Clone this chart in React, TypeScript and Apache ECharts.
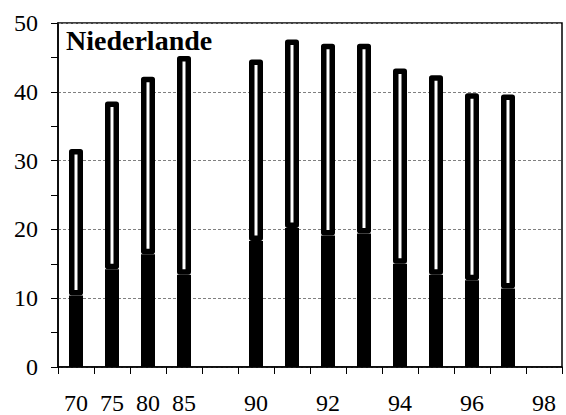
import React, { useEffect, useRef } from "react";
import * as echarts from "echarts";

const categories = ["70", "75", "80", "85", "", "90", "91", "92", "93", "94", "95", "96", "97", "98"];
const hiddenLabels = ["91", "93", "95", "97"];
const blackValues: (number | null)[] = [10.4, 14.2, 16.4, 13.4, null, 18.3, 20.2, 19.1, 19.4, 15.0, 13.4, 12.6, 11.4, null];
const totalValues: (number | null)[] = [31.7, 38.6, 42.2, 45.2, null, 44.7, 47.6, 47.0, 47.0, 43.4, 42.4, 39.8, 39.6, null];
const yTicks = [0, 10, 20, 30, 40, 50];
const titleText = "Niederlande";

const whiteValues = totalValues.map((t, i) => {
  const b = blackValues[i];
  return t == null || b == null ? null : +(t - b).toFixed(2);
});

const FONT = "Liberation Serif";

export default function App() {
  const ref = useRef<HTMLDivElement>(null);
  useEffect(() => {
    if (!ref.current) return;
    const chart = echarts.init(ref.current, undefined, { renderer: "svg" });
    chart.setOption({
      animation: false,
      backgroundColor: "#ffffff",
      textStyle: { fontFamily: FONT },
      title: {
        text: titleText,
        left: 66,
        top: 26,
        padding: 0,
        textStyle: { fontFamily: FONT, fontWeight: "bold", fontSize: 28, color: "#000" },
      },
      grid: {
        left: 58,
        right: 4,
        top: 23,
        bottom: 45,
        show: true,
        borderColor: "#000",
        borderWidth: 1.5,
        backgroundColor: "transparent",
      },
      xAxis: {
        type: "category",
        data: categories,
        boundaryGap: true,
        axisLine: { show: true, lineStyle: { color: "#000", width: 1.5 } },
        axisTick: { show: true, interval: 0, length: 7, lineStyle: { color: "#000", width: 1 } },
        axisLabel: {
          interval: 0,
          margin: 24,
          fontFamily: FONT,
          fontSize: 24,
          color: "#000",
          formatter: (v: string) => (hiddenLabels.includes(v) ? "" : v),
        },
        splitLine: { show: false },
      },
      yAxis: {
        type: "value",
        min: yTicks[0],
        max: yTicks[yTicks.length - 1],
        interval: 10,
        axisLine: { show: true, lineStyle: { color: "#000", width: 1.5 } },
        axisTick: { show: true, length: 7, lineStyle: { color: "#000", width: 1 } },
        minorTick: { show: true, splitNumber: 2, length: 7, lineStyle: { color: "#000", width: 1 } },
        axisLabel: { margin: 20, fontFamily: FONT, fontSize: 24, color: "#000" },
        splitLine: { show: true, lineStyle: { color: "#808080", width: 1, type: [3, 2] } },
        minorSplitLine: { show: false },
      },
      series: [
        {
          type: "bar",
          stack: "s",
          data: blackValues,
          barWidth: 14,
          itemStyle: { color: "#000", borderColor: "#000", borderWidth: 2 },
        },
        {
          type: "bar",
          stack: "s",
          data: whiteValues,
          barWidth: 14,
          itemStyle: { color: "#fff", borderColor: "#000", borderWidth: 5.5, borderJoin: "round" },
        },
      ],
    });
    return () => chart.dispose();
  }, []);
  return (
    <div
      ref={ref}
      style={{ width: 566, height: 415, position: "fixed", left: 0, top: 0, background: "#fff" }}
    />
  );
}
